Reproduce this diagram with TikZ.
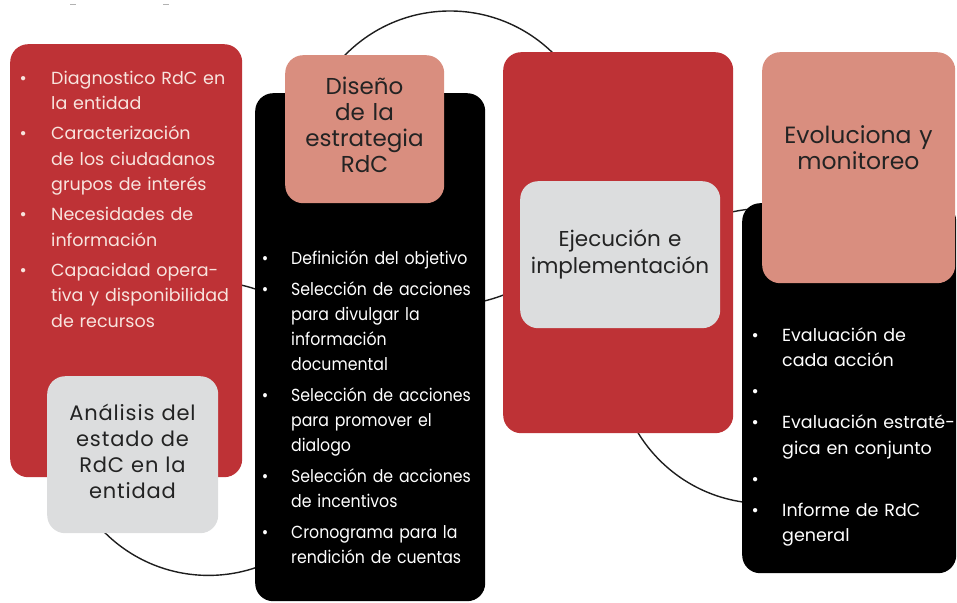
\documentclass[tikz,border=0pt]{standalone}
\usepackage{fontspec}
\setmainfont{Poppins}
\newfontfamily\narrowfont[FakeStretch=0.9]{Poppins}
\newfontfamily\spacedfont[LetterSpace=4]{Poppins}
\definecolor{boxred}{RGB}{190,50,54}
\definecolor{salmon}{RGB}{217,142,127}
\definecolor{lightgrey}{RGB}{220,221,222}
\definecolor{ringc}{RGB}{30,30,30}
\definecolor{darktext}{RGB}{35,35,35}
\definecolor{pinktext}{RGB}{248,228,222}
\newcommand{\bulletsym}{\textbullet}
\newcommand{\bitem}[1]{\par\noindent\llap{\hbox to \bl{\makebox[0pt][c]{\bulletsym}\hfil}}#1\par}
\tikzset{
  box/.style={rounded corners=18pt, inner sep=0pt, anchor=north west, draw=none},
  ring/.style={draw=ringc, line width=1.4pt},
  listtext/.style={anchor=base west, inner sep=0pt, text width=300pt, align=left},
  ctext/.style={anchor=base, inner sep=0pt, align=center, text=darktext},
}
\begin{document}
\begin{tikzpicture}[x=1pt,y=-1pt]
\useasboundingbox (0,0) rectangle (957,602);
% background rings
\coordinate (r1) at (208.5,428.4);
\coordinate (r2) at (450,158);
\coordinate (r3) at (764,356);
\draw[ring] (r1) circle[radius=147pt];
\draw[ring] (r2) circle[radius=147pt];
\draw[ring] (r3) circle[radius=147.5pt];
% faint marks at top
\coordinate (m1a) at (70,5); \coordinate (m1b) at (76,5);
\coordinate (m2a) at (163,5); \coordinate (m2b) at (169,5);
\draw[gray!60, line width=1pt] (m1a) -- (m1b);
\draw[gray!60, line width=1pt] (m2a) -- (m2b);
% boxes
\node[box, fill=boxred, minimum width=232pt, minimum height=433pt] (b1) at (10,44) {};
\node[box, fill=lightgrey, minimum width=171pt, minimum height=157pt] (an) at (47,376) {};
\node[box, fill=black, minimum width=230pt, minimum height=508pt] (b2) at (255,93) {};
\node[box, fill=salmon, minimum width=159pt, minimum height=148pt] (ds) at (285,55) {};
\node[box, fill=boxred, minimum width=230pt, minimum height=381pt] (b3) at (503,52) {};
\node[box, fill=lightgrey, minimum width=200pt, minimum height=147pt] (ej) at (520,181) {};
\node[box, fill=black, minimum width=214pt, minimum height=370pt] (b4) at (742,203) {};
\node[box, fill=salmon, minimum width=193pt, minimum height=231pt] (ev) at (762,52) {};
% texts
\node[listtext, text=pinktext, font={\fontsize{17.5}{25.5}\selectfont}] (t1) at (23,54)
 {\def\bl{28pt}\leftskip=28pt\parskip=4.5pt
  \bitem{Diagnostico RdC en\\la entidad}
  \bitem{Caracterización\\de los ciudadanos\\grupos de interés}
  \bitem{Necesidades de\\información}
  \bitem{Capacidad opera-\\tiva y disponibilidad\\de recursos}};
\node[ctext, text width=171pt, font={\spacedfont\fontsize{21}{26}\selectfont}] (tan) at (132.5,420)
 {Análisis del\\estado de\\RdC en la\\entidad};
\node[ctext, text width=159pt, font={\fontsize{23}{26.3}\selectfont}] (tds) at (364.5,94)
 {Diseño\\de la\\estrategia\\RdC};
\node[listtext, text=white, font={\narrowfont\fontsize{17.5}{25}\selectfont}] (t2) at (265,233)
 {\def\bl{26pt}\leftskip=26pt\parskip=6pt
  \bitem{Definición del objetivo}
  \bitem{Selección de acciones\\para divulgar la\\información\\documental}
  \bitem{Selección de acciones\\para promover el\\dialogo}
  \bitem{Selección de acciones\\de incentivos}
  \bitem{Cronograma para la\\rendición de cuentas}};
\node[ctext, text width=200pt, font={\fontsize{21.5}{27}\selectfont}] (tej) at (620,246)
 {Ejecución e\\implementación};
\node[ctext, text width=193pt, font={\fontsize{23.5}{26.5}\selectfont}] (tev) at (858.5,143)
 {Evoluciona y\\monitoreo};
\node[listtext, text=white, font={\fontsize{17.5}{25.5}\selectfont}] (t4) at (755,310)
 {\def\bl{27pt}\leftskip=27pt\parskip=5.5pt
  \bitem{Evaluación de\\cada acción}
  \bitem{\strut}
  \bitem{Evaluación estraté-\\gica en conjunto}
  \bitem{\strut}
  \bitem{Informe de RdC\\general}};
\end{tikzpicture}
\end{document}
